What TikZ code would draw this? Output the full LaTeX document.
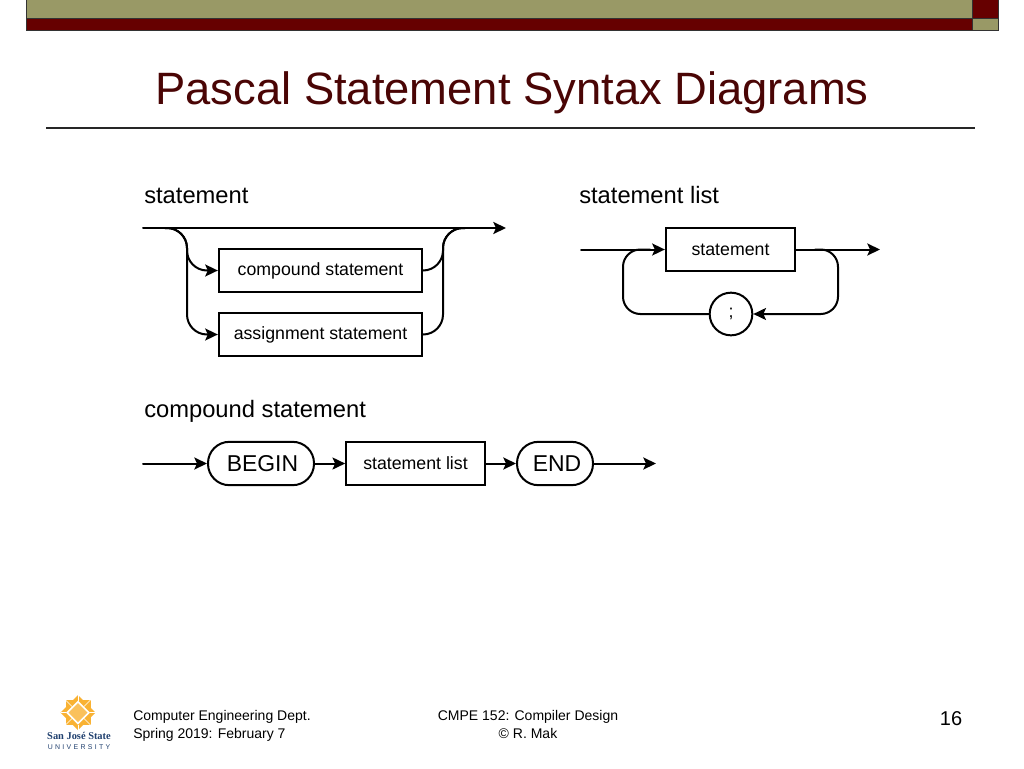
\documentclass[tikz,border=0pt]{standalone}
\usepackage{fontspec}
\setmainfont{Liberation Sans}
\newfontfamily\logofont{Liberation Serif}
\usetikzlibrary{arrows.meta}
\definecolor{olive}{HTML}{999966}
\definecolor{maroon}{HTML}{660000}
\definecolor{titlecol}{HTML}{4A0505}
\definecolor{logogold}{HTML}{F9B233}
\definecolor{logoblue}{HTML}{1F3F6E}
\tikzset{
  flow/.style={line width=1.5pt,line cap=round},
  arr/.style={flow,-{Stealth[length=9.5pt,width=9pt,inset=2pt]}},
  stmtbox/.style={draw,line width=1.5pt,minimum height=32.5pt,inner sep=0pt,font=\fontsize{13.3}{15}\selectfont},
  termbox/.style={draw,line width=1.5pt,rounded corners=16pt,minimum height=32.5pt,inner sep=0pt,font=\fontsize{17.2}{20}\selectfont},
  heading/.style={anchor=base west,inner sep=0pt,font=\fontsize{17.8}{21}\selectfont},
  foot/.style={inner sep=0pt,font=\fontsize{10.5}{12}\selectfont,anchor=base}
}
\begin{document}
\begin{tikzpicture}[x=0.75pt,y=-0.75pt]
  \useasboundingbox (0,0) rectangle (1024,768);
  \fill[white] (0,0) rectangle (1024,768);

  %top bars
  \filldraw[fill=olive,draw=black!80,line width=0.7pt] (26,-1) rectangle (972,18);
  \filldraw[fill=maroon,draw=black!80,line width=0.7pt] (26,18) rectangle (972,30);
  \filldraw[fill=maroon,draw=black!80,line width=0.7pt] (972,-1) rectangle (998,18);
  \filldraw[fill=olive,draw=black!80,line width=0.7pt] (972,18) rectangle (998,30);

  %title
  \node[inner sep=0pt,anchor=base,text=titlecol,font=\fontsize{34}{38}\selectfont] (title) at (512,104) {Pascal Statement Syntax Diagrams};
  \coordinate (ruleL) at (46,128);
  \coordinate (ruleR) at (975,128);
  \draw[line width=1pt,black!85] (ruleL) -- (ruleR);

  %statement
  \node[heading] (hstmt) at (144,203) {statement};
  \coordinate (sIn) at (143,228);
  \coordinate (sOut) at (506,228);
  \coordinate (sSplit) at (165,228);
  \coordinate (sJoin) at (465,228);
  \coordinate (sDown) at (187,228);
  \coordinate (sUp) at (443,228);
  \node[stmtbox,minimum width=152.5pt] (cs) at (320.5,270.5) {compound statement};
  \node[stmtbox,minimum width=152.5pt] (as) at (320.5,334.5) {assignment statement};
  \draw[arr] (sIn) -- (sOut);
  \draw[arr,rounded corners=15pt] (sSplit) -- (sDown) -- (sDown |- cs.west) -- (cs.west);
  \draw[arr,rounded corners=15pt] (sSplit) -- (sDown) -- (sDown |- as.west) -- (as.west);
  \draw[flow,rounded corners=15pt] (cs.east) -- (sUp |- cs.east) -- (sUp) -- (sJoin);
  \draw[flow,rounded corners=15pt] (as.east) -- (sUp |- as.east) -- (sUp) -- (sJoin);

  %statement list
  \node[heading] (hlist) at (579,203) {statement list};
  \node[stmtbox,minimum width=97pt] (st) at (730.5,249.5) {statement};
  \node[draw,circle,line width=1.5pt,minimum size=32pt,inner sep=0pt,font=\fontsize{13.3}{15}\selectfont] (semi) at (731,314) {;};
  \coordinate (lIn) at (581,249.5);
  \coordinate (lOut) at (880,249.5);
  \coordinate (lLoopA) at (815,249.5);
  \coordinate (lLoopB) at (650,249.5);
  \draw[arr] (lIn) -- (st.west);
  \draw[arr] (st.east) -- (lOut);
  \draw[arr,rounded corners=13pt] (lLoopA) -| (838,314) -- (semi.east);
  \draw[flow,rounded corners=13pt] (semi.west) -| (623,249.5) -- (lLoopB);

  %compound statement
  \node[heading] (hcomp) at (144,417) {compound statement};
  \coordinate (cIn) at (143,463.5);
  \coordinate (cOut) at (656,463.5);
  \node[termbox,minimum width=79.5pt] (bg) at (261,463.5) {\hspace*{2.2pt}BEGIN};
  \node[stmtbox,minimum width=104pt] (sl) at (415.5,463.5) {statement list};
  \node[termbox,minimum width=57pt] (en) at (555,463.5) {\hspace*{3pt}END};
  \draw[arr] (cIn) -- (bg.west);
  \draw[arr] (bg.east) -- (sl.west);
  \draw[arr] (sl.east) -- (en.west);
  \draw[arr] (en.east) -- (cOut);

  %logo
  \fill[logogold] (78,695) -- (95.5,712.5) -- (78,730) -- (60.5,712.5) -- cycle;
  \fill[logogold] (65.5,700) rectangle (90.5,725);
  \fill[white] (78,700.5) -- (90,712.5) -- (78,724.5) -- (66,712.5) -- cycle;
  \fill[logogold!80!white] (78,703) -- (87.5,712.5) -- (78,722) -- (68.5,712.5) -- cycle;
  \foreach \a in {0,90,180,270} {
    \draw[white,line width=0.4pt,rotate around={\a:(78,712.5)}] (78,695) -- (78,700.5);
    \draw[white,line width=0.4pt,rotate around={\a:(78,712.5)}] (65.5,700) -- (72,706.5);
  }
  \node[inner sep=0pt,anchor=base,text=logoblue,font=\logofont\bfseries\fontsize{7.8}{9}\selectfont] (logoa) at (79,739) {San José State};
  \node[inner sep=0pt,anchor=base,text=logoblue,font=\fontsize{5.2}{6}\selectfont] (logob) at (79,749) {U\,\,N\,\,I\,\,V\,\,E\,\,R\,\,S\,\,I\,\,T\,\,Y};

  %footer
  \node[foot,anchor=base west] (fa) at (133,720) {Computer Engineering Dept.};
  \node[foot,anchor=base west] (fb) at (133,738) {Spring 2019: February 7};
  \node[foot] (fc) at (528,720) {CMPE 152: Compiler Design};
  \node[foot] (fd) at (528,738) {© R. Mak};
  \node[inner sep=0pt,anchor=base,font=\fontsize{15}{18}\selectfont] (pg) at (951,725) {16};
\end{tikzpicture}
\end{document}
